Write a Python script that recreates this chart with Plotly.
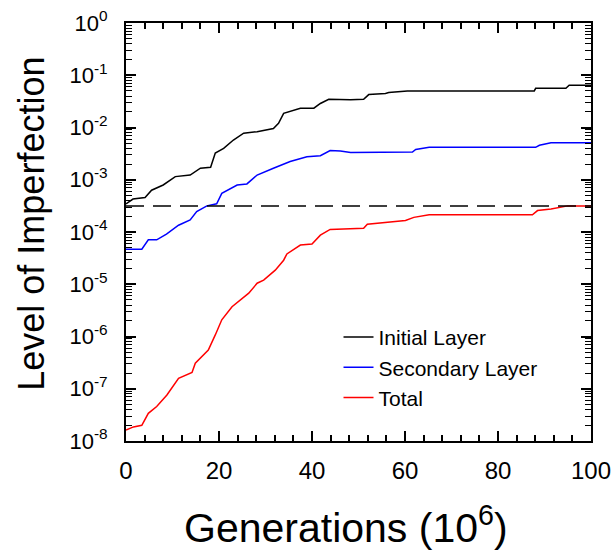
import plotly.graph_objects as go
import numpy as np

# Generations (10^6) and log10 of imperfection level
initial_x = [0, 1.5, 4.1, 5.5, 8, 10.6, 13.8, 16, 18.2, 19.2, 21, 23.1, 25.3, 28.2, 31.7, 32.8, 33.9,
             37.5, 40.4, 41.8, 43.6, 48.3, 51.1, 52.2, 55.8, 56.5, 60.5, 87.8, 88.1, 94.6, 95.3, 100]
initial_log = [-3.46, -3.37, -3.34, -3.20, -3.10, -2.94, -2.91, -2.78, -2.76, -2.49, -2.40, -2.24, -2.11,
               -2.08, -2.02, -1.92, -1.73, -1.63, -1.63, -1.54, -1.46, -1.47, -1.46, -1.37, -1.35, -1.33,
               -1.30, -1.30, -1.25, -1.25, -1.19, -1.19]

secondary_x = [0, 3.4, 4.8, 6.6, 8.7, 11.3, 13.8, 15.2, 17.4, 19.5, 20.6, 23.9, 26, 28.2, 31.7, 35.3,
               38.9, 41.8, 43.9, 46.1, 48.3, 61.6, 62.3, 65.2, 88.1, 88.9, 91.4, 100]
secondary_log = [-4.33, -4.33, -4.15, -4.15, -4.04, -3.87, -3.77, -3.61, -3.50, -3.46, -3.26, -3.10,
                 -3.08, -2.91, -2.78, -2.65, -2.56, -2.54, -2.44, -2.45, -2.48, -2.47, -2.42, -2.38,
                 -2.38, -2.34, -2.29, -2.29]

total_x = [0, 1.6, 3.4, 4.8, 6.6, 8.8, 11.3, 14.2, 14.9, 17.7, 19.2, 20.6, 22.8, 26.4, 28.2, 29.6, 32.1,
           33.9, 34.6, 37.5, 40, 41.8, 43.9, 48.3, 51.1, 51.9, 55.8, 60.1, 61.9, 65.2, 87.4, 88.5, 91.4,
           95, 100]
total_log = [-7.79, -7.73, -7.70, -7.47, -7.34, -7.12, -6.80, -6.69, -6.51, -6.26, -5.97, -5.68, -5.43,
             -5.17, -4.98, -4.92, -4.73, -4.54, -4.42, -4.25, -4.23, -4.06, -3.95, -3.93, -3.93, -3.85,
             -3.81, -3.78, -3.72, -3.67, -3.67, -3.59, -3.56, -3.50, -3.50]

threshold = 10 ** -3.5

x_ticks = [0, 20, 40, 60, 80, 100]
y_major = [10.0 ** k for k in range(-8, 1)]
y_labels = ["10<sup>%d</sup>" % k for k in range(-8, 1)]
y_minor = [m * 10.0 ** k for k in range(-8, 0) for m in range(2, 10)]

x_title = "Generations (10<sup>6</sup>)"
y_title = "Level of Imperfection"

series = [
    ("Initial Layer", initial_x, initial_log, "#000000"),
    ("Secondary Layer", secondary_x, secondary_log, "#0000ff"),
    ("Total", total_x, total_log, "#ff0000"),
]

fig = go.Figure()
for name, xs, ls, col in series:
    fig.add_trace(go.Scatter(x=xs, y=[10 ** v for v in ls], mode="lines", name=name,
                             line=dict(color=col, width=1.5)))

fig.add_trace(go.Scatter(x=[0, 100], y=[threshold, threshold], mode="lines", showlegend=False,
                         line=dict(color="#000000", width=1.5, dash="18px,9px")))

font = "Liberation Sans, Arial, sans-serif"
fig.update_layout(
    width=615, height=552,
    margin=dict(l=126, r=24, t=23, b=111),
    paper_bgcolor="white", plot_bgcolor="white",
    font=dict(family=font, color="black"),
    showlegend=True,
    legend=dict(x=0.457, y=0.297, xanchor="left", yanchor="top", bgcolor="rgba(0,0,0,0)",
                font=dict(size=21, family=font), tracegroupgap=0),
    xaxis=dict(range=[0, 100], tickmode="array", tickvals=x_ticks,
               ticks="inside", ticklen=10, tickwidth=1.5, tickcolor="black", automargin=False,
               minor=dict(ticks="inside", ticklen=6, dtick=4, tick0=0, tickcolor="black", tickwidth=1.5),
               showline=True, linecolor="black", linewidth=2, mirror="allticks",
               showgrid=False, zeroline=False, tickfont=dict(size=24), ticklabelstandoff=7),
    yaxis=dict(type="log", range=[-8, 0], tickmode="array", tickvals=y_major, ticktext=y_labels,
               ticks="inside", ticklen=10, tickwidth=1.5, tickcolor="black", automargin=False,
               minor=dict(ticks="inside", ticklen=6, tickmode="array", tickvals=y_minor,
                          tickcolor="black", tickwidth=1),
               showline=True, linecolor="black", linewidth=2, mirror="allticks",
               showgrid=False, zeroline=False, tickfont=dict(size=22), ticklabelstandoff=12),
    annotations=[
        dict(text=x_title, xref="paper", yref="paper", x=0.473, y=-0.201, xanchor="center",
             yanchor="middle", showarrow=False, font=dict(size=41, family=font)),
        dict(text=y_title, xref="paper", yref="paper", x=-0.205, y=0.519, xanchor="center",
             yanchor="middle", textangle=-90, showarrow=False, font=dict(size=36, family=font)),
    ],
)

fig.write_html("out.html", config={"displayModeBar": False},
               post_script="document.body.style.margin='0';")
